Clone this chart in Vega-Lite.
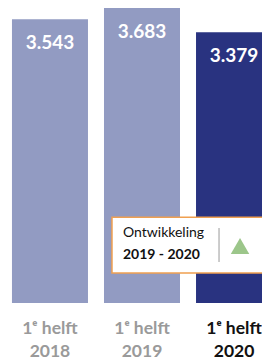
{
  "$schema": "https://vega.github.io/schema/vega-lite/v6.json",
  "autosize": "none",
  "width": 284,
  "height": 295,
  "padding": {"left": 0, "top": 8, "right": 0, "bottom": 59},
  "background": "white",
  "config": {
    "view": {"stroke": null},
    "font": "Lato",
    "locale": {"number": {"decimal": ",", "thousands": ".", "grouping": [3], "currency": ["€", ""]}}
  },
  "datasets": {
    "bars": [
      {"year": "2018", "value": 3543, "current": false},
      {"year": "2019", "value": 3683, "current": false},
      {"year": "2020", "value": 3379, "current": true}
    ]
  },
  "encoding": {
    "x": {
      "field": "year",
      "type": "nominal",
      "sort": null,
      "scale": {"paddingInner": 0.174, "paddingOuter": 0.13},
      "axis": {
        "title": null,
        "domain": false,
        "ticks": false,
        "labelAngle": 0,
        "labelFont": "Lato",
        "labelFontSize": 17.5,
        "labelLineHeight": 23,
        "labelPadding": 16,
        "labelBaseline": "top",
        "labelExpr": "['1ᵉ helft', datum.label]",
        "labelColor": {"condition": {"test": "datum.value == '2020'", "value": "#111111"}, "value": "#9a9a9a"},
        "labelFontWeight": "bold"
      }
    }
  },
  "layer": [
    {
      "data": {"name": "bars"},
      "mark": {"type": "bar"},
      "encoding": {
        "y": {"field": "value", "type": "quantitative", "scale": {"domain": [0, 3683], "nice": false}, "axis": null},
        "color": {
          "field": "current",
          "type": "nominal",
          "scale": {"domain": [false, true], "range": ["#929bc2", "#293380"]},
          "legend": null
        }
      }
    },
    {
      "data": {"name": "bars"},
      "mark": {"type": "text", "baseline": "top", "dy": 15, "fontSize": 19, "fontWeight": "bold", "color": "white", "font": "Lato"},
      "encoding": {
        "y": {"field": "value", "type": "quantitative"},
        "text": {"field": "value", "type": "quantitative", "format": ",.0f"}
      }
    },
    {
      "data": {"values": [{"year": "2019", "end": "2020"}]},
      "mark": {"type": "rect", "fill": "white", "stroke": "#f0a050", "strokeWidth": 1.5, "xOffset": 8},
      "encoding": {
        "x": {"field": "year", "type": "nominal", "bandPosition": 0},
        "x2": {"field": "end", "bandPosition": 1},
        "y": {"datum": 374, "type": "quantitative"},
        "y2": {"datum": 1072}
      }
    },
    {
      "data": {"values": [{"year": "2019", "label": "Ontwikkeling"}]},
      "mark": {"type": "text", "align": "left", "baseline": "middle", "dx": 19, "fontSize": 14, "color": "#111111", "font": "Lato"},
      "encoding": {
        "x": {"field": "year", "type": "nominal", "bandPosition": 0},
        "y": {"datum": 874, "type": "quantitative"},
        "text": {"field": "label"}
      }
    },
    {
      "data": {"values": [{"year": "2019", "label": "2019 - 2020"}]},
      "mark": {"type": "text", "align": "left", "baseline": "middle", "dx": 19, "fontSize": 14, "fontWeight": "bold", "color": "#111111", "font": "Lato"},
      "encoding": {
        "x": {"field": "year", "type": "nominal", "bandPosition": 0},
        "y": {"datum": 599, "type": "quantitative"},
        "text": {"field": "label"}
      }
    },
    {
      "data": {"values": [{"year": "2020"}]},
      "mark": {"type": "rule", "color": "#999999", "strokeWidth": 1, "xOffset": 23},
      "encoding": {
        "x": {"field": "year", "type": "nominal", "bandPosition": 0},
        "y": {"datum": 936, "type": "quantitative"},
        "y2": {"datum": 512}
      }
    },
    {
      "data": {"values": [{"year": "2020"}]},
      "mark": {"type": "point", "shape": "triangle-up", "filled": true, "size": 340, "color": "#9cc68a", "opacity": 1, "xOffset": 6},
      "encoding": {
        "x": {"field": "year", "type": "nominal", "bandPosition": 0.5},
        "y": {"datum": 712, "type": "quantitative"}
      }
    }
  ]
}
